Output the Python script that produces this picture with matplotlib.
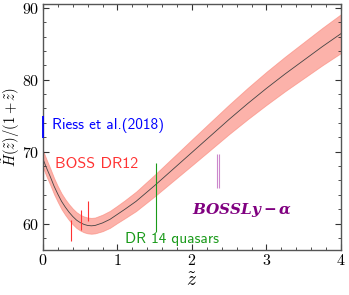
import numpy as np
import matplotlib
matplotlib.use("Agg")
import matplotlib.pyplot as plt
from matplotlib.ticker import MultipleLocator, FuncFormatter

plt.rcParams['mathtext.fontset'] = 'cm'

# Model curve
z_model = [0, 0.05, 0.1, 0.15, 0.2, 0.25, 0.3, 0.35, 0.4, 0.45, 0.5, 0.55, 0.6, 0.65, 0.7,
           0.8, 0.9, 1.0, 1.1, 1.25, 1.5, 1.75, 2.0, 2.25, 2.5, 2.75, 3.0, 3.25, 3.5, 3.75, 4.0]
h_model = [69.0, 67.7, 66.5, 65.2, 64.1, 63.1, 62.3, 61.6, 61.0, 60.5, 60.15, 59.9, 59.75, 59.7, 59.75,
           60.1, 60.6, 61.3, 62.0, 63.1, 65.3, 67.6, 69.9, 72.2, 74.5, 76.7, 78.8, 80.8, 82.7, 84.6, 86.4]
h_err = [1.2, 1.18, 1.15, 1.13, 1.1, 1.1, 1.1, 1.1, 1.1, 1.1, 1.1, 1.1, 1.1, 1.1, 1.1,
         1.15, 1.18, 1.2, 1.25, 1.35, 1.5, 1.65, 1.8, 1.93, 2.05, 2.18, 2.3, 2.4, 2.5, 2.6, 2.7]

# Data points
riess_z, riess_h, riess_e = [0.0], [73.4], [1.5]
boss_z = [0.38, 0.51, 0.61]
boss_h = [59.1, 60.5, 61.8]
boss_e = [1.45, 1.4, 1.4]
qso_z, qso_h, qso_e = [1.52], [63.6], [4.8]
lya_z = [2.33, 2.36]
lya_h = [67.3, 67.3]
lya_e = [2.4, 2.4]

fig = plt.figure(figsize=(3.49, 2.95), dpi=100)
ax = fig.add_axes([0.123, 0.154, 0.854, 0.832])

zm = np.array(z_model); hm = np.array(h_model); he = np.array(h_err)
ax.fill_between(zm, hm - he, hm + he, color='#fa8072', alpha=0.6, lw=0.6, zorder=1)
ax.plot(zm, hm, color='#444444', lw=0.6, zorder=2)

ax.errorbar(riess_z, riess_h, yerr=riess_e, fmt='none', ecolor='blue', elinewidth=1.3, clip_on=False, zorder=3)
ax.errorbar(boss_z, boss_h, yerr=boss_e, fmt='none', ecolor='#ff3333', elinewidth=0.8, zorder=3)
ax.errorbar(qso_z, qso_h, yerr=qso_e, fmt='none', ecolor='#1a9a1a', elinewidth=0.8, zorder=3)
ax.errorbar(lya_z, lya_h, yerr=lya_e, fmt='none', ecolor='#cc88cc', elinewidth=0.8, zorder=3)

ax.text(0.12, 73.7, 'Riess et al.(2018)', color='blue', fontsize=11,
        va='center', ha='left', family='cmss10')
ax.text(0.16, 68.3, 'BOSS DR12', color='#ff3333', fontsize=11.5,
        va='center', ha='left', family='cmss10')
ax.text(1.1, 57.9, 'DR 14 quasars', color='#1a9a1a', fontsize=11,
        va='center', ha='left', family='cmss10')
ax.text(2.0, 61.9, r'$\boldsymbol{BOSSLy-\alpha}$', color='purple', fontsize=11,
        va='center', ha='left', math_fontfamily='dejavuserif')

ax.set_xlim(0, 4)
ax.set_ylim(56.4, 90.5)
ax.xaxis.set_major_locator(MultipleLocator(1))
ax.xaxis.set_minor_locator(MultipleLocator(0.2))
ax.yaxis.set_major_locator(MultipleLocator(10))
ax.yaxis.set_minor_locator(MultipleLocator(2))
fmt = FuncFormatter(lambda v, p: r'$\mathbf{%d}$' % int(round(v)))
ax.xaxis.set_major_formatter(fmt)
ax.yaxis.set_major_formatter(fmt)
ax.tick_params(which='both', direction='in', top=True, right=True, labelsize=11.5, colors='#333333', labelcolor='black')
ax.tick_params(which='major', length=4, pad=2.5)
ax.tick_params(which='minor', length=2)
for s in ax.spines.values():
    s.set_color('#555555')
    s.set_linewidth(1.0)

ax.set_xlabel(r'$\boldsymbol{\tilde{z}}$', fontsize=14, labelpad=2)
ax.set_ylabel(r'$\boldsymbol{\tilde{H}(\tilde{z})/(1+\tilde{z})}$', fontsize=10.5)
ax.yaxis.set_label_coords(-0.07, 0.5)

fig.savefig('out.png', dpi=100)
